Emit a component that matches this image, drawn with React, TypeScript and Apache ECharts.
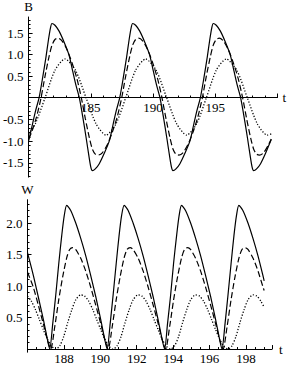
import React, { useEffect, useRef } from "react";
import * as echarts from "echarts";

// ---- Top panel: B(t) ----
const bSolid: [number, number][] = [
  [180.0,-1.0],[180.32,-0.6],[180.56,-0.3],[180.84,0],[181.12,0.45],[181.40,0.95],[181.60,1.35],[181.76,1.62],[181.88,1.72],[182.12,1.68],[182.44,1.55],[182.84,1.3],[183.24,1.0],[183.56,0.6],[183.80,0.3],[184.08,0],[184.36,-0.45],[184.64,-0.95],[184.84,-1.33],[185.00,-1.6],[185.12,-1.68],[185.36,-1.64],[185.68,-1.52],[186.08,-1.28],[186.48,-1.0],[186.80,-0.6],[187.04,-0.3],[187.32,0],
  [187.60,0.45],[187.88,0.95],[188.08,1.35],[188.24,1.62],[188.36,1.72],[188.60,1.68],[188.92,1.55],[189.32,1.3],[189.72,1.0],[190.04,0.6],[190.28,0.3],[190.56,0],[190.84,-0.45],[191.12,-0.95],[191.32,-1.33],[191.48,-1.6],[191.60,-1.68],[191.84,-1.64],[192.16,-1.52],[192.56,-1.28],[192.96,-1.0],[193.28,-0.6],[193.52,-0.3],[193.80,0],
  [194.08,0.45],[194.36,0.95],[194.56,1.35],[194.72,1.62],[194.84,1.72],[195.08,1.68],[195.40,1.55],[195.80,1.3],[196.20,1.0],[196.52,0.6],[196.76,0.3],[197.04,0],[197.32,-0.45],[197.60,-0.95],[197.80,-1.33],[197.96,-1.6],[198.08,-1.68],[198.32,-1.64],[198.64,-1.52],[199.04,-1.28],[199.44,-1.0],[199.5,-0.96]
];

const bDashed: [number, number][] = [
  [180.0,-0.95],[180.24,-0.8],[180.64,-0.44],[181.0,0],[181.32,0.5],[181.64,0.95],[181.88,1.22],[182.12,1.35],[182.36,1.38],[182.68,1.32],[183.08,1.12],[183.48,0.82],[183.88,0.45],[184.24,0],[184.56,-0.48],[184.88,-0.92],[185.12,-1.18],[185.36,-1.3],[185.60,-1.32],[185.92,-1.27],[186.32,-1.08],[186.72,-0.8],[187.12,-0.44],[187.48,0],
  [187.80,0.5],[188.12,0.95],[188.36,1.22],[188.60,1.35],[188.84,1.38],[189.16,1.32],[189.56,1.12],[189.96,0.82],[190.36,0.45],[190.72,0],[191.04,-0.48],[191.36,-0.92],[191.60,-1.18],[191.84,-1.3],[192.08,-1.32],[192.40,-1.27],[192.80,-1.08],[193.20,-0.8],[193.60,-0.44],[193.96,0],
  [194.28,0.5],[194.60,0.95],[194.84,1.22],[195.08,1.35],[195.32,1.38],[195.64,1.32],[196.04,1.12],[196.44,0.82],[196.84,0.45],[197.20,0],[197.52,-0.48],[197.84,-0.92],[198.08,-1.18],[198.32,-1.3],[198.56,-1.32],[198.88,-1.27],[199.28,-1.08],[199.5,-0.95]
];

const bDotted: [number, number][] = [
  [180.0,-0.83],[180.54,-0.6],[181.32,0],[182.12,0.64],[182.92,0.9],[183.77,0.64],[184.62,0],[185.42,-0.6],[186.22,-0.86],[187.02,-0.6],[187.80,0],
  [188.60,0.64],[189.40,0.9],[190.25,0.64],[191.10,0],[191.90,-0.6],[192.70,-0.86],[193.50,-0.6],[194.28,0],
  [195.08,0.64],[195.88,0.9],[196.73,0.64],[197.58,0],[198.38,-0.6],[199.18,-0.86],[199.5,-0.83]
];

// ---- Bottom panel: W(t) ----
const wSolid: [number, number][] = [
  [186.0,1.53],[186.32,1.17],[186.59,0.83],[186.87,0.47],[187.06,0.2],[187.22,0],
  [187.385,0.4],[187.55,0.85],[187.715,1.35],[187.88,1.8],[188.02,2.12],[188.154,2.28],[188.374,2.2],[188.65,2.0],[188.92,1.76],[189.2,1.48],[189.47,1.17],[189.75,0.83],[190.02,0.47],[190.21,0.2],[190.374,0],
  [190.54,0.4],[190.70,0.85],[190.87,1.35],[191.03,1.8],[191.17,2.12],[191.31,2.28],[191.53,2.2],[191.80,2.0],[192.07,1.76],[192.35,1.48],[192.62,1.17],[192.90,0.83],[193.17,0.47],[193.36,0.2],[193.53,0],
  [193.69,0.4],[193.86,0.85],[194.02,1.35],[194.19,1.8],[194.33,2.12],[194.46,2.28],[194.68,2.2],[194.96,2.0],[195.23,1.76],[195.51,1.48],[195.78,1.17],[196.06,0.83],[196.33,0.47],[196.52,0.2],[196.68,0],
  [196.85,0.4],[197.01,0.85],[197.18,1.35],[197.34,1.8],[197.48,2.12],[197.61,2.28],[197.83,2.2],[198.11,2.0],[198.38,1.76],[198.66,1.48],[198.93,1.17],[199.0,1.08]
];

const wDashed: [number, number][] = [
  [186.0,1.22],[186.32,0.98],[186.59,0.7],[186.87,0.4],[187.09,0.15],[187.275,0],
  [187.495,0.35],[187.715,0.78],[187.935,1.15],[188.155,1.45],[188.315,1.58],[188.485,1.61],[188.645,1.58],[188.925,1.44],[189.195,1.24],[189.475,0.98],[189.745,0.7],[190.025,0.4],[190.245,0.15],[190.43,0],
  [190.65,0.35],[190.87,0.78],[191.09,1.15],[191.31,1.45],[191.47,1.58],[191.64,1.61],[191.80,1.58],[192.08,1.44],[192.35,1.24],[192.63,0.98],[192.90,0.7],[193.18,0.4],[193.40,0.15],[193.585,0],
  [193.805,0.35],[194.025,0.78],[194.245,1.15],[194.465,1.45],[194.625,1.58],[194.795,1.61],[194.955,1.58],[195.235,1.44],[195.505,1.24],[195.785,0.98],[196.055,0.7],[196.335,0.4],[196.555,0.15],[196.74,0],
  [196.96,0.35],[197.18,0.78],[197.40,1.15],[197.62,1.45],[197.78,1.58],[197.95,1.61],[198.11,1.58],[198.39,1.44],[198.66,1.24],[198.94,0.98],[199.0,0.93]
];

const wDotted: [number, number][] = [
  [186.0,0.84],[186.21,0.76],[186.43,0.63],[186.65,0.47],[186.87,0.31],[187.09,0.16],[187.31,0.05],[187.55,0],
  [187.77,0.05],[187.99,0.2],[188.21,0.42],[188.43,0.62],[188.65,0.78],[188.92,0.86],[189.14,0.84],[189.36,0.76],[189.58,0.63],[189.80,0.47],[190.02,0.31],[190.24,0.16],[190.46,0.05],[190.70,0],
  [190.92,0.05],[191.14,0.2],[191.36,0.42],[191.58,0.62],[191.80,0.78],[192.07,0.86],[192.29,0.84],[192.51,0.76],[192.73,0.63],[192.95,0.47],[193.17,0.31],[193.39,0.16],[193.61,0.05],[193.86,0],
  [194.08,0.05],[194.30,0.2],[194.52,0.42],[194.74,0.62],[194.96,0.78],[195.23,0.86],[195.45,0.84],[195.67,0.76],[195.89,0.63],[196.11,0.47],[196.33,0.31],[196.55,0.16],[196.77,0.05],[197.01,0],
  [197.23,0.05],[197.45,0.2],[197.67,0.42],[197.89,0.62],[198.11,0.78],[198.38,0.86],[198.60,0.84],[198.82,0.76],[199.0,0.66]
];

// tick labels
const bTickValues = [-1.5, -1.0, -0.5, 0.5, 1.0, 1.5];
const wTickValues = [0.5, 1.0, 1.5, 2.0];
const bMinorTicks = [-1.8,-1.7,-1.6,-1.4,-1.3,-1.2,-1.1,-0.9,-0.8,-0.7,-0.6,-0.4,-0.3,-0.2,-0.1,0.1,0.2,0.3,0.4,0.6,0.7,0.8,0.9,1.1,1.2,1.3,1.4,1.6,1.7,1.8];
const wMinorTicks = [0.1,0.2,0.3,0.4,0.6,0.7,0.8,0.9,1.1,1.2,1.3,1.4,1.6,1.7,1.8,1.9,2.1,2.2,2.3];

const FONT = "'Liberation Serif', 'Times New Roman', serif";
const txt = { color: "#000", fontFamily: FONT, fontSize: 13 };

// panel geometry (pixels)
const TOP = { left: 27.5, top: 16.2, width: 250, height: 160.9, yMin: -1.83, yMax: 1.87 };
const BOT = { left: 27.5, top: 199.7, width: 244.5, height: 152.5, yMin: -0.05, yMax: 2.37 };
const zeroOffset = (g: typeof TOP) => -(g.height * (0 - g.yMin)) / (g.yMax - g.yMin);

function line(data: [number, number][], xi: number, kind: "solid" | "dashed" | "dotted") {
  const style: any = { color: "#000", width: kind === "dotted" ? 1.3 : 1.2 };
  if (kind === "dashed") style.type = [6, 3];
  if (kind === "dotted") style.type = [1.2, 1.8];
  return {
    type: "line",
    xAxisIndex: xi,
    yAxisIndex: xi * 2,
    data,
    showSymbol: false,
    smooth: 0.25,
    lineStyle: style,
    silent: true,
  };
}

export default function App() {
  const ref = useRef<HTMLDivElement>(null);
  useEffect(() => {
    const chart = echarts.init(ref.current!, null, { renderer: "svg" });
    const axisLine = { show: true, onZero: false, lineStyle: { color: "#000", width: 1 } };
    chart.setOption({
      animation: false,
      backgroundColor: "#fff",
      grid: [
        { left: TOP.left, top: TOP.top, width: TOP.width, height: TOP.height },
        { left: BOT.left, top: BOT.top, width: BOT.width, height: BOT.height },
      ],
      xAxis: [
        {
          type: "value", gridIndex: 0, min: 180, max: 200, interval: 5,
          position: "bottom", offset: zeroOffset(TOP),
          axisLine,
          axisTick: { show: true, inside: true, length: 4, lineStyle: { color: "#000" } },
          minorTick: { show: true, splitNumber: 5, length: 2, lineStyle: { color: "#000" } },
          axisLabel: { ...txt, margin: 3, showMinLabel: false, showMaxLabel: false },
          splitLine: { show: false },
          name: "t", nameLocation: "end", nameGap: 5, nameTextStyle: { ...txt },
        },
        {
          type: "value", gridIndex: 1, min: 186, max: 199.43, interval: 2,
          position: "bottom", offset: zeroOffset(BOT),
          axisLine,
          axisTick: { show: true, inside: true, length: 4, lineStyle: { color: "#000" } },
          minorTick: { show: true, splitNumber: 4, length: 2, lineStyle: { color: "#000" } },
          axisLabel: { ...txt, margin: 3, showMinLabel: false, showMaxLabel: false },
          splitLine: { show: false },
          name: "t", nameLocation: "end", nameGap: 7, nameTextStyle: { ...txt },
        },
      ],
      yAxis: [
        {
          type: "value", gridIndex: 0, min: TOP.yMin, max: TOP.yMax, position: "left",
          axisLine,
          axisTick: { show: true, inside: true, length: 4, customValues: bTickValues, lineStyle: { color: "#000" } },
          axisLabel: { ...txt, margin: 5, customValues: bTickValues, formatter: (v: number) => v.toFixed(1) },
          splitLine: { show: false },
          name: "B", nameLocation: "end", nameGap: 4, nameTextStyle: { ...txt, align: "center" },
        },
        {
          type: "value", gridIndex: 0, min: TOP.yMin, max: TOP.yMax, position: "left", offset: 0,
          axisLine: { show: false },
          axisTick: { show: true, inside: true, length: 2, customValues: bMinorTicks, lineStyle: { color: "#000" } },
          axisLabel: { show: false },
          splitLine: { show: false },
        },
        {
          type: "value", gridIndex: 1, min: BOT.yMin, max: BOT.yMax, position: "left",
          axisLine,
          axisTick: { show: true, inside: true, length: 4, customValues: wTickValues, lineStyle: { color: "#000" } },
          axisLabel: { ...txt, margin: 5, customValues: wTickValues, formatter: (v: number) => v.toFixed(1) },
          splitLine: { show: false },
          name: "W", nameLocation: "end", nameGap: 4, nameTextStyle: { ...txt, align: "center" },
        },
        {
          type: "value", gridIndex: 1, min: BOT.yMin, max: BOT.yMax, position: "left", offset: 0,
          axisLine: { show: false },
          axisTick: { show: true, inside: true, length: 2, customValues: wMinorTicks, lineStyle: { color: "#000" } },
          axisLabel: { show: false },
          splitLine: { show: false },
        },
      ],
      series: [
        line(bSolid, 0, "solid"),
        line(bDashed, 0, "dashed"),
        line(bDotted, 0, "dotted"),
        line(wSolid, 1, "solid"),
        line(wDashed, 1, "dashed"),
        line(wDotted, 1, "dotted"),
      ],
    });
    return () => chart.dispose();
  }, []);
  return (
    <div
      ref={ref}
      style={{ position: "fixed", left: 0, top: 0, width: 288, height: 369, background: "#fff" }}
    />
  );
}
